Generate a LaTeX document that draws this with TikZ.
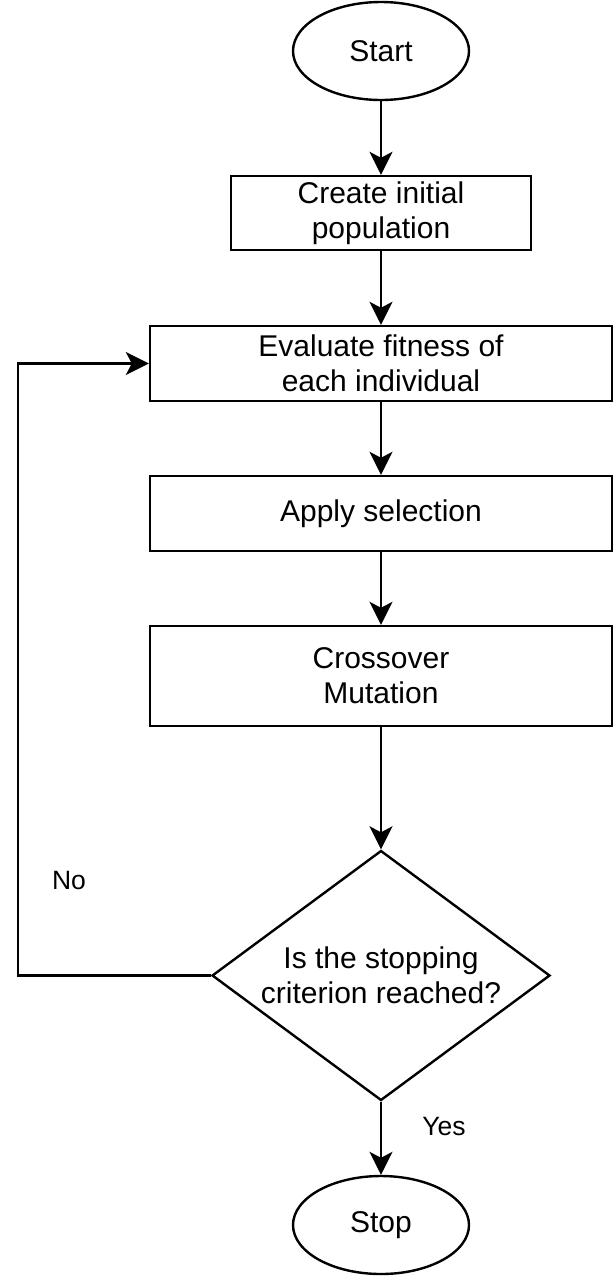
\documentclass[tikz,border=0pt]{standalone}
\usepackage{fontspec}
\setmainfont{Liberation Sans}
\usetikzlibrary{arrows.meta,shapes.geometric}
\begin{document}
\begin{tikzpicture}[x=1pt,y=-1pt,
  every node/.style={font=\fontsize{30}{35}\selectfont, align=center},
  term/.style={draw, line width=2.4pt, ellipse, minimum width=176pt, minimum height=98pt, inner sep=0pt},
  procbox/.style={draw, line width=2.4pt, rectangle, inner sep=0pt},
  decis/.style={draw, line width=2.4pt, diamond, minimum width=338pt, minimum height=250pt, inner sep=0pt, aspect=1.35},
  arr/.style={line width=2.4pt, -{Stealth[length=23pt,width=23pt,inset=6pt]}},
  lbl/.style={font=\fontsize{26.5}{30}\selectfont}
]
\useasboundingbox (0,0) rectangle (615,1278);
\node[term] (start) at (381,51) {Start};
\node[procbox, minimum width=300pt, minimum height=74pt] (init) at (381,213) {Create initial\\population};
\node[procbox, minimum width=462pt, minimum height=75pt] (eval) at (381,363.5) {Evaluate fitness of\\each individual};
\node[procbox, minimum width=462pt, minimum height=75pt] (sel) at (381,513.5) {Apply selection};
\node[procbox, minimum width=462pt, minimum height=100pt] (cross) at (381,676) {Crossover\\Mutation};
\node[decis] (dec) at (381,975.5) {Is the stopping\\criterion reached?};
\node[term] (stop) at (381,1225) {Stop};
\coordinate (lb) at (18,975.5);
\coordinate (lt) at (18,363.5);
\draw[arr] (start) -- (init);
\draw[arr] (init) -- (eval);
\draw[arr] (eval) -- (sel);
\draw[arr] (sel) -- (cross);
\draw[arr] (cross) -- (dec);
\draw[arr] (dec) -- (stop);
\draw[arr] (dec.west) -- (lb) -- (lt) -- (eval.west);
\node[lbl] (no) at (69,880) {No};
\node[lbl] (yes) at (444,1126) {Yes};
\end{tikzpicture}
\end{document}
